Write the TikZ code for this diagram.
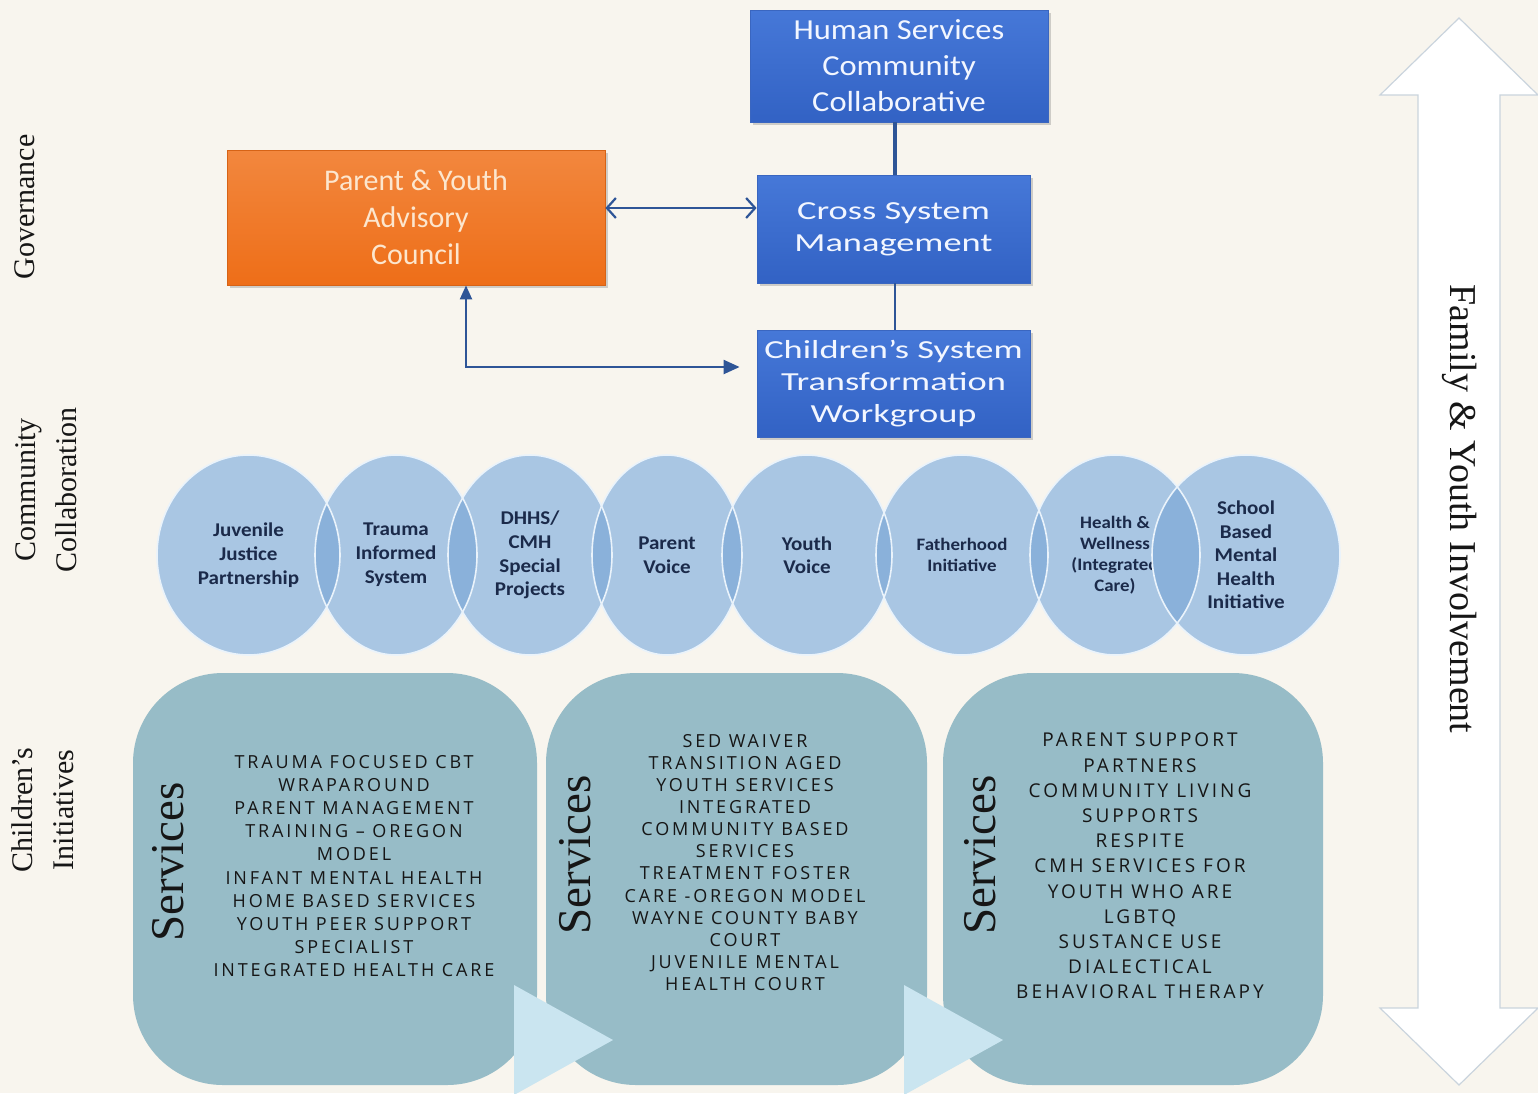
\documentclass[tikz,border=0pt]{standalone}
\usepackage{fontspec}
\setmainfont{Liberation Serif}
\newfontfamily\calfont{Carlito}
\newfontfamily\calmid[FakeStretch=1.12]{Carlito}
\newfontfamily\calwide[FakeStretch=1.4]{Carlito}
\newfontfamily\circfont[FakeStretch=1.08]{Carlito}
\newfontfamily\listfont[LetterSpace=16]{Open Sans}
\usetikzlibrary{arrows.meta,shadows,shapes.geometric,calc}

\definecolor{paper}{HTML}{F8F5EE}
\definecolor{boxblueA}{HTML}{4678D8}
\definecolor{boxblueB}{HTML}{3262C4}
\definecolor{boxedge}{HTML}{3A66C0}
\definecolor{boxtext}{HTML}{F2F6FF}
\definecolor{orangeA}{HTML}{F2873E}
\definecolor{orangeB}{HTML}{EE6E18}
\definecolor{orangetext}{HTML}{FCE6CE}
\definecolor{linkblue}{HTML}{2E5597}
\definecolor{circfill}{HTML}{A9C6E3}
\definecolor{lensfill}{HTML}{8AB1DA}
\definecolor{circedge}{HTML}{EAF3FB}
\definecolor{circtext}{HTML}{1B2A4A}
\definecolor{svcfill}{HTML}{97BCC7}
\definecolor{trifill}{HTML}{CAE5F0}
\definecolor{arrowedge}{HTML}{CAD4DD}
\definecolor{ink}{HTML}{161616}

\tikzset{
  bluebox/.style={rectangle, draw=boxedge, line width=0.8pt, top color=boxblueA,
    bottom color=boxblueB, text=boxtext, align=center, inner sep=0pt,
    drop shadow={opacity=0.35, shadow xshift=3pt, shadow yshift=-3pt}},
  orangebox/.style={rectangle, draw=orangeB!90!black, line width=0.8pt, top color=orangeA,
    bottom color=orangeB, text=orangetext, align=center, inner sep=0pt,
    drop shadow={opacity=0.35, shadow xshift=3pt, shadow yshift=-3pt}},
  link/.style={draw=linkblue, line width=2.5pt},
  circ/.style={ellipse, fill=circfill, inner sep=0pt, text=circtext, align=center},
  svcbox/.style={rectangle, rounded corners=90pt, fill=svcfill, inner sep=0pt},
  svctitle/.style={rotate=90, text=ink, font=\fontsize{47}{50}\selectfont},
  svclist/.style={text=ink, align=center, inner sep=0pt},
  sidelabel/.style={rotate=90, text=ink, align=center, font=\fontsize{30}{41}\selectfont},
}

\begin{document}
\begin{tikzpicture}[x=1pt,y=-1pt]
\useasboundingbox (0,0) rectangle (1538,1093);
\fill[paper] (0,0) rectangle (1538,1093);

% ---- row labels ----
\node[sidelabel] (gov) at (25,207) {Governance};
\node[sidelabel] (comm) at (46,490) {Community\\Collaboration};
\node[sidelabel] (kids) at (43,810) {Children's\\Initiatives};

% ---- governance boxes ----
\node[bluebox, minimum width=298pt, minimum height=112pt,
      font=\calmid\fontsize{29}{36}\selectfont] (hs) at (899,66)
      {Human Services\\Community\\Collaborative};
\node[bluebox, minimum width=273pt, minimum height=108pt,
      font=\calwide\fontsize{26}{32}\selectfont] (csm) at (893.5,229)
      {Cross System\\Management};
\node[bluebox, minimum width=273pt, minimum height=107pt,
      font=\calwide\fontsize{26}{32}\selectfont] (cstw) at (893.5,383.5)
      {Children’s System\\Transformation\\Workgroup};
\node[orangebox, minimum width=378pt, minimum height=135pt,
      font=\calfont\fontsize{30}{37}\selectfont] (pyac) at (416,217.5)
      {Parent \& Youth\\Advisory\\Council};

% ---- governance connectors ----
\draw[link, line width=3.5pt] (hs.south -| 895,0) -- (csm.north -| 895,0);
\draw[link] (csm.south -| 895,0) -- (cstw.north -| 895,0);
\draw[link, line width=2.2pt, {Straight Barb[length=9pt,width=20pt,line width=2.2pt]}-{Straight Barb[length=9pt,width=20pt,line width=2.2pt]}]
  ([yshift=9.5pt]pyac.east) -- ([yshift=9.5pt]pyac.east -| csm.west);
\coordinate (elbow) at (466,367);
\draw[link, line width=2.2pt, {Triangle[length=14pt,width=12pt]}-{Triangle[length=16pt,width=14pt]}, shorten >=17pt]
  (elbow |- pyac.south) -- (elbow) -- (elbow -| cstw.west);

% ---- community collaboration circles ----
\node[circ, minimum width=183pt, minimum height=200pt, font=\circfont\bfseries\fontsize{19.5}{24}\selectfont]
  (c1) at (248.5,555) {Juvenile\\Justice\\Partnership};
\node[circ, minimum width=162pt, minimum height=200pt, font=\circfont\bfseries\fontsize{19.5}{24}\selectfont]
  (c2) at (396,555) {Trauma\\Informed\\System};
\node[circ, minimum width=164pt, minimum height=200pt, font=\circfont\bfseries\fontsize{19.5}{23.7}\selectfont]
  (c3) at (530,555) {DHHS/\\CMH\\Special\\Projects};
\node[circ, minimum width=150pt, minimum height=200pt, font=\circfont\bfseries\fontsize{19.5}{23.5}\selectfont]
  (c4) at (667,555) {Parent\\Voice};
\node[circ, minimum width=170pt, minimum height=200pt, font=\circfont\bfseries\fontsize{19.5}{23.5}\selectfont]
  (c5) at (807,555) {Youth\\Voice};
\node[circ, minimum width=172pt, minimum height=200pt, font=\circfont\bfseries\fontsize{17.5}{21.5}\selectfont]
  (c6) at (962,555) {Fatherhood\\Initiative};
\node[circ, minimum width=170pt, minimum height=200pt, font=\circfont\bfseries\fontsize{17.5}{21}\selectfont]
  (c7) at (1115,555) {Health \&\\Wellness\\(Integrated\\Care)};
\node[circ, minimum width=188pt, minimum height=200pt, font=\circfont\bfseries\fontsize{19.5}{23.5}\selectfont]
  (c8) at (1246,555) {School\\Based\\Mental\\Health\\Initiative};

% overlap lenses between neighbouring circles
\foreach \a/\ra/\b/\rb in {248.5/91.5/396/81, 396/81/530/82, 530/82/667/75, 667/75/807/85,
                           807/85/962/86, 962/86/1115/85, 1115/85/1246/94}{
  \begin{scope}
    \clip (\a,555) ellipse [x radius=\ra, y radius=100];
    \fill[lensfill] (\b,555) ellipse [x radius=\rb, y radius=100];
  \end{scope}
}
\foreach \c/\r in {248.5/91.5, 396/81, 530/82, 667/75, 807/85, 962/86, 1115/85, 1246/94}{
  \draw[circedge, line width=1.6pt] (\c,555) ellipse [x radius=\r, y radius=100];
}

% ---- children's initiatives: service panels ----
\node[svcbox, minimum width=404pt, minimum height=412pt] (s1) at (335,879) {};
\node[svcbox, minimum width=381pt, minimum height=412pt] (s2) at (736.5,879) {};
\node[svcbox, minimum width=380pt, minimum height=412pt] (s3) at (1133,879) {};

\fill[trifill] (514,985) -- (613,1040) -- (514,1095) -- cycle;
\fill[trifill] (904,985) -- (1003,1040) -- (904,1095) -- cycle;

\node[svctitle] (t1) at (168,862) {Services};
\node[svctitle] (t2) at (575,855) {Services};
\node[svctitle] (t3) at (980,855) {Services};

\node[svclist, font=\listfont\fontsize{18}{23.1}\selectfont] (l1) at (354,866)
  {TRAUMA FOCUSED CBT\\WRAPAROUND\\PARENT MANAGEMENT\\TRAINING – OREGON\\MODEL\\
   INFANT MENTAL HEALTH\\HOME BASED SERVICES\\YOUTH PEER SUPPORT\\SPECIALIST\\
   INTEGRATED HEALTH CARE};
\node[svclist, font=\listfont\fontsize{18}{22.1}\selectfont] (l2) at (745,862.5)
  {SED WAIVER\\TRANSITION AGED\\YOUTH SERVICES\\INTEGRATED\\COMMUNITY BASED\\SERVICES\\
   TREATMENT FOSTER\\CARE -OREGON MODEL\\WAYNE COUNTY BABY\\COURT\\JUVENILE MENTAL\\
   HEALTH COURT};
\node[svclist, font=\listfont\fontsize{19}{25.2}\selectfont] (l3) at (1140,866)
  {PARENT SUPPORT\\PARTNERS\\COMMUNITY LIVING\\SUPPORTS\\RESPITE\\CMH SERVICES FOR\\
   YOUTH WHO ARE\\LGBTQ\\SUSTANCE USE\\DIALECTICAL\\BEHAVIORAL THERAPY};

% ---- family & youth involvement double arrow ----
\filldraw[fill=white, draw=arrowedge, line width=1.2pt, line join=miter]
  (1459,18) -- (1538,95) -- (1500,95) -- (1500,1008) -- (1538,1008) -- (1459,1085)
  -- (1380,1008) -- (1418,1008) -- (1418,95) -- (1380,95) -- cycle;
\node[rotate=-90, text=ink, font=\fontsize{38}{40}\selectfont] (fyi) at (1460,509)
  {Family \& Youth Involvement};
\end{tikzpicture}
\end{document}
